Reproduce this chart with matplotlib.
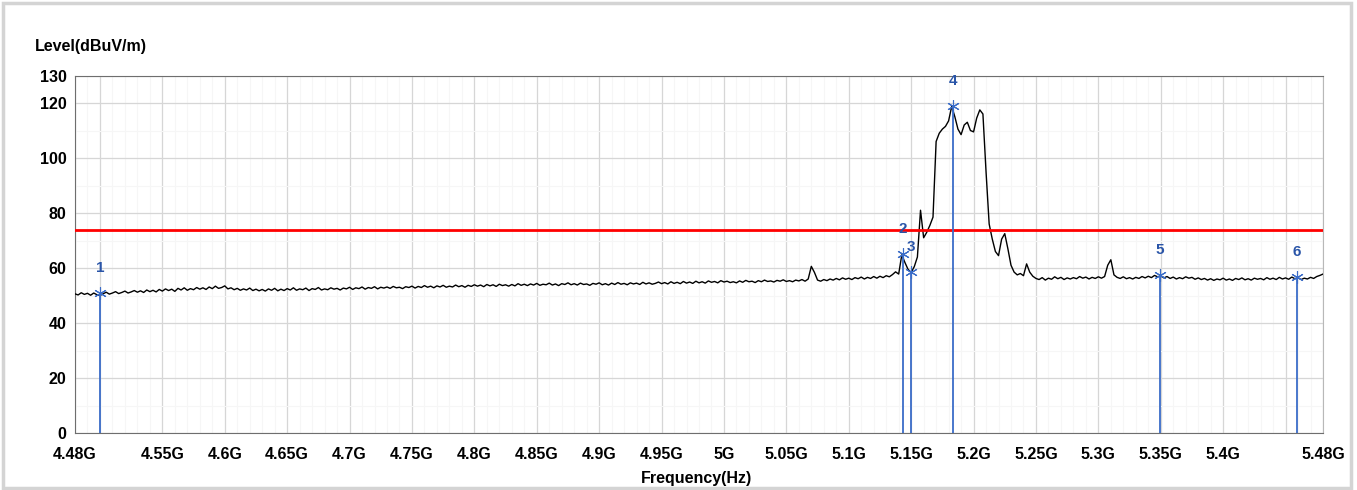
import numpy as np
import matplotlib
matplotlib.use("Agg")
import matplotlib.pyplot as plt
from matplotlib.ticker import FixedLocator, MultipleLocator
from matplotlib.patches import Rectangle

plt.rcParams['font.family'] = ['Liberation Sans', 'DejaVu Sans']

# sweep 4480 .. 5480 MHz, 2.5 MHz step
f_start, f_stop = 4480.0, 5480.0
levels = [
    50.6, 50.2, 51.0, 50.4, 50.8, 50.1, 50.9, 50.3, 50.0, 50.6, 51.2, 50.5, 50.9, 51.4, 50.7, 51.1, 51.6, 50.9, 51.3, 51.8,
    51.2, 51.7, 51.1, 52.0, 51.4, 51.9, 51.3, 52.2, 51.6, 52.4, 51.8, 52.3, 51.5, 52.6, 52.0, 52.8, 51.9, 52.5, 52.1, 52.9,
    52.3, 52.8, 52.2, 53.1, 52.5, 53.4, 52.6, 52.9, 53.5, 52.4, 52.8, 52.1, 52.6, 51.9, 52.4, 52.0, 52.7, 51.8, 52.3, 51.7,
    52.2, 51.6, 52.4, 51.9, 52.6, 51.7, 52.3, 51.8, 52.5, 52.0, 52.8, 51.9, 52.4, 52.1, 52.7, 51.8, 52.5, 52.2, 52.9, 52.0,
    52.4, 52.1, 52.8, 52.3, 52.6, 52.0, 52.7, 52.4, 53.0, 52.2, 52.8, 52.5, 53.1, 52.3, 52.9, 52.6, 53.2, 52.4, 53.0, 52.7,
    53.1, 52.6, 53.3, 52.8, 53.0, 52.5, 53.2, 52.9, 53.4, 52.7, 53.3, 52.9, 53.6, 53.0, 53.4, 52.8, 53.5, 53.1, 53.7, 53.0,
    53.4, 53.1, 53.8, 53.2, 53.6, 53.0, 53.7, 53.3, 53.9, 53.4, 53.8, 53.2, 54.0, 53.5, 53.9, 53.3, 54.1, 53.6, 53.9, 53.4,
    54.0, 53.5, 54.3, 53.7, 54.1, 53.6, 54.2, 53.8, 54.4, 53.7, 54.1, 53.9, 54.5, 53.8, 54.2, 53.6, 54.3, 54.0, 54.6, 53.9,
    54.3, 53.8, 54.5, 54.0, 54.2, 53.7, 54.4, 54.1, 54.6, 53.9, 54.3, 53.8, 54.5, 54.0, 54.7, 54.1, 54.4, 53.9, 54.6, 54.2,
    54.5, 54.0, 54.8, 54.2, 54.6, 54.1, 54.4, 54.9, 54.3, 54.7, 54.2, 55.0, 54.4, 54.8, 54.3, 55.1, 54.5, 54.9, 54.4, 55.2,
    54.6, 55.0, 54.5, 55.3, 54.8, 55.1, 54.6, 55.4, 54.9, 55.2, 54.7, 55.0, 54.6, 55.3, 54.8, 55.5, 55.0, 55.2, 54.7, 55.4,
    55.0, 55.6, 55.1, 55.3, 54.9, 55.5, 55.2, 55.7, 55.1, 55.4, 55.0, 55.6, 55.3, 55.8, 55.2, 56.0, 60.6, 58.4, 55.6, 55.2,
    55.8, 55.4, 56.0, 55.6, 56.2, 55.7, 56.4, 55.9, 56.3, 55.8, 56.5, 56.1, 56.7, 56.0, 56.6, 56.2, 56.9, 56.3, 57.0, 56.5,
    57.2, 56.8, 57.6, 58.6, 57.8, 64.8, 62.0, 59.5, 58.4, 60.5, 64.0, 81.0, 71.0, 73.0, 75.5, 78.5, 106.0, 109.0, 110.5, 111.5,
    113.5, 118.8, 115.0, 110.5, 108.5, 112.0, 113.0, 110.0, 109.5, 114.5, 117.5, 116.0, 95.0, 76.0, 70.5, 66.0, 64.5, 70.5, 72.5, 67.0,
    61.0, 58.5, 57.5, 58.0, 57.2, 61.5, 58.5, 57.0, 56.2, 55.8, 56.5, 55.6, 56.3, 55.9, 56.8, 56.1, 56.6, 55.8, 56.4, 56.0,
    56.5, 56.1, 56.9, 56.3, 56.7, 56.0, 56.6, 56.2, 56.8, 56.3, 56.9, 61.0, 63.0, 57.5, 56.6, 56.2, 56.8, 56.1, 56.5, 56.0,
    56.6, 56.2, 56.9, 56.4, 57.0, 56.5, 57.3, 56.8, 57.1, 56.4, 56.9, 56.2, 56.7, 56.0, 56.5, 56.1, 56.8, 56.3, 56.6, 55.9,
    56.4, 55.8, 56.2, 55.6, 56.1, 55.5, 56.0, 55.7, 56.3, 55.6, 56.0, 55.5, 56.2, 55.8, 56.4, 55.7, 56.1, 55.6, 56.3, 55.9,
    56.2, 55.7, 56.5, 55.9, 56.3, 55.8, 56.6, 56.0, 56.4, 55.9, 56.7, 56.1, 56.5, 55.8, 56.3, 56.0, 56.6, 56.2, 56.9, 57.3,
    57.8,
]

limit_level = 74.0

marker_ids = ["1", "2", "3", "4", "5", "6"]
marker_freq = [4500.0, 5143.5, 5149.6, 5183.5, 5349.4, 5459.0]
marker_level = [50.9, 65.0, 58.4, 119.0, 57.3, 56.6]

xtick_mhz = [4480, 4500, 4550, 4600, 4650, 4700, 4750, 4800, 4850, 4900, 4950,
             5000, 5050, 5100, 5150, 5200, 5250, 5300, 5350, 5400, 5450, 5480]
xtick_labels = ["4.48G", "", "4.55G", "4.6G", "4.65G", "4.7G", "4.75G", "4.8G", "4.85G",
                "4.9G", "4.95G", "5G", "5.05G", "5.1G", "5.15G", "5.2G", "5.25G",
                "5.3G", "5.35G", "5.4G", "", "5.48G"]
ytick_vals = [0, 20, 40, 60, 80, 100, 120, 130]

freqs = np.linspace(f_start, f_stop, len(levels))

fig = plt.figure(figsize=(13.57, 4.90), dpi=100)
# light window frame around the plot area
fig.patches.append(Rectangle((0.002, 0.004), 1348 / 1357, 0.99, transform=fig.transFigure,
                             fill=False, edgecolor="#d4d4d4", linewidth=2.5))
ax = fig.add_axes([75 / 1357, 1 - 433 / 490, 1248 / 1357, 357.5 / 490])

ax.plot(freqs, levels, color="black", linewidth=1.0, zorder=3)
ax.axhline(limit_level, color="#ff0000", linewidth=2, zorder=4)

mcol = "#3a6cc8"
for mid, mf, ml in zip(marker_ids, marker_freq, marker_level):
    ax.vlines(mf, 0, ml, color=mcol, linewidth=1.3, zorder=5)
    ax.plot(mf, ml, marker=(6, 2, 0), color=mcol, markersize=9, mew=0.8, zorder=6)
    ax.annotate(mid, (mf, ml), xytext=(0, 13), textcoords="offset points",
                ha="center", va="bottom", color="#2a55a8", fontsize=11, fontweight="bold",
                zorder=7)

ax.set_xlim(f_start, f_stop)
ax.set_ylim(0, 130)
ax.xaxis.set_major_locator(FixedLocator(xtick_mhz))
ax.set_xticklabels(xtick_labels)
ax.xaxis.set_minor_locator(MultipleLocator(10))
ax.set_yticks(ytick_vals)
ax.yaxis.set_minor_locator(MultipleLocator(10))

ax.grid(which="major", color="#d6d6d6", linewidth=0.9)
ax.grid(which="minor", color="#f6f6f6", linewidth=0.8)
ax.set_axisbelow(True)

ax.tick_params(which="both", length=0)
ax.tick_params(axis="x", pad=10)
ax.tick_params(axis="y", pad=6)
for lab in ax.get_xticklabels() + ax.get_yticklabels():
    lab.set_fontsize(11.5)
    lab.set_fontweight("bold")

for side in ["left", "bottom", "top"]:
    ax.spines[side].set_color("#6e6e6e")
ax.spines["right"].set_color("#b8b8b8")

fig.text(35 / 1357, 1 - 46 / 490, "Level(dBuV/m)", ha="left", va="center",
         fontsize=11.5, fontweight="bold")
fig.text(697 / 1357, 1 - 478 / 490, "Frequency(Hz)", ha="center", va="center",
         fontsize=11.5, fontweight="bold")

fig.savefig("out.png", dpi=100, facecolor="white")
